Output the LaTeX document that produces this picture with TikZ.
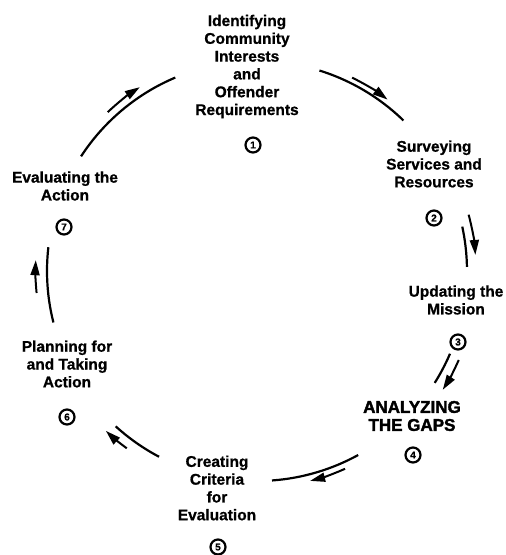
\documentclass[tikz,border=0pt]{standalone}
\usepackage{fontspec}
\setmainfont{Liberation Sans}[BoldFeatures={FakeBold=0.8}]
\newfontfamily\heavyfont{Liberation Sans}[BoldFeatures={FakeBold=2}]
\usetikzlibrary{arrows.meta}
\begin{document}
\begin{tikzpicture}[x=1pt,y=-1pt,
  stage/.style={font=\fontsize{15.5}{17.8}\selectfont\bfseries, align=center, inner sep=0pt},
  gaps/.style={font=\heavyfont\fontsize{17}{18}\selectfont\bfseries, align=center, inner sep=0pt},
  num/.style={circle, draw, line width=2.2pt, minimum size=15pt, inner sep=0pt,
              font=\fontsize{10}{10}\selectfont\bfseries},
  cyc/.style={line width=2.2pt},
  flow/.style={line width=2pt, -{Triangle[length=15pt,width=9pt]}}]
\useasboundingbox (0,0) rectangle (506,555);
\coordinate (c) at (257,271);

% stage labels
\node[stage] (s1) at (247,66.5) {Identifying\\Community\\Interests\\and\\Offender\\Requirements};
\node[stage] (s2) at (434,164) {Surveying\\Services and\\Resources};
\node[stage] (s3) at (456,300) {Updating the\\Mission};
\node[gaps]  (s4) at (412,416) {ANALYZING\\THE GAPS};
\node[stage] (s5) at (217,488) {Creating\\Criteria\\for\\Evaluation};
\node[stage] (s6) at (67,364) {Planning for\\and Taking\\Action};
\node[stage] (s7) at (65,186) {Evaluating the\\Action};

% step numbers
\node[num] (n1) at (253,145) {1};
\node[num] (n2) at (434,218) {2};
\node[num] (n3) at (458,342) {3};
\node[num] (n4) at (413,455) {4};
\node[num] (n5) at (218,547) {5};
\node[num] (n6) at (67,417) {6};
\node[num] (n7) at (64,227) {7};

% cycle arcs with their direction arrows (angles measured in the flipped frame)
\draw[cyc] ([shift={(-146.9:210)}]c) arc[start angle=-146.9, end angle=-112.9, radius=210];
\draw[flow] ([shift={(-133.2:218)}]c) arc[start angle=-133.2, end angle=-122.5, radius=218];

\draw[cyc] ([shift={(-72.7:210)}]c) arc[start angle=-72.7, end angle=-45.8, radius=210];
\draw[flow] ([shift={(-63.8:215.5)}]c) arc[start angle=-63.8, end angle=-52.7, radius=215.5];

\draw[cyc] ([shift={(-12.2:210)}]c) arc[start angle=-12.2, end angle=-1.1, radius=210];
\draw[flow] ([shift={(-14.9:219)}]c) arc[start angle=-14.9, end angle=-4.2, radius=219];

\draw[cyc] ([shift={(23.2:210)}]c) arc[start angle=23.2, end angle=32.2, radius=210];
\draw[flow] ([shift={(23.8:220.5)}]c) arc[start angle=23.8, end angle=32.6, radius=220.5];

\draw[cyc] ([shift={(61.2:210)}]c) arc[start angle=61.2, end angle=85.9, radius=210];
\draw[flow] ([shift={(66:216.5)}]c) arc[start angle=66, end angle=75.8, radius=216.5];

\draw[cyc] ([shift={(117.8:210)}]c) arc[start angle=117.8, end angle=132.3, radius=210];
\draw[flow] ([shift={(126.3:220)}]c) arc[start angle=126.3, end angle=133.4, radius=220];

\draw[cyc] ([shift={(165.8:210)}]c) arc[start angle=165.8, end angle=186.5, radius=210];
\draw[flow] ([shift={(-185.7:221.5)}]c) arc[start angle=-185.7, end angle=-177.2, radius=221.5];
\end{tikzpicture}
\end{document}
